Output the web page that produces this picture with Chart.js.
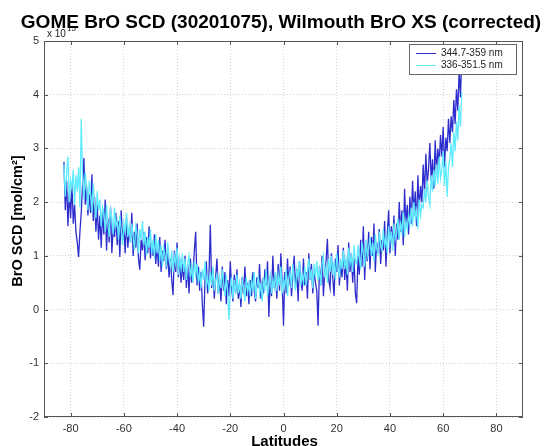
<!DOCTYPE html>
<html>
<head>
<meta charset="utf-8">
<script src="https://cdn.jsdelivr.net/npm/chart.js@4.4.0/dist/chart.umd.min.js"></script>
<style>
  html, body { margin: 0; padding: 0; background: #fff; }
  canvas { display: block; }
</style>
</head>
<body>
<canvas id="broChart" width="544" height="446"></canvas>
<script>
const chartTitle = "GOME BrO SCD (30201075), Wilmouth BrO XS (corrected)";
const xTitle = "Latitudes";
const yTitle = "BrO SCD [mol/cm\u00B2]";
const xTicks = [-80, -60, -40, -20, 0, 20, 40, 60, 80];
const yTicks = [-2, -1, 0, 1, 2, 3, 4, 5];
const seriesNames = ["344.7-359 nm", "336-351.5 nm"];

// latitude of each ground pixel along the orbit
const lats = [
  -82.5, -82, -81.5, -81, -80.5, -80, -79.5, -79, -78.5, -78,
  -77.5, -77, -76.5, -76, -75.5, -75, -74.5, -74, -73.5, -73,
  -72.5, -72, -71.5, -71, -70.5, -70, -69.5, -69, -68.5, -68,
  -67.5, -67, -66.5, -66, -65.5, -65, -64.5, -64, -63.5, -63,
  -62.5, -62, -61.5, -61, -60.5, -60, -59.5, -59, -58.5, -58,
  -57.5, -57, -56.5, -56, -55.5, -55, -54.5, -54, -53.5, -53,
  -52.5, -52, -51.5, -51, -50.5, -50, -49.5, -49, -48.5, -48,
  -47.5, -47, -46.5, -46, -45.5, -45, -44.5, -44, -43.5, -43,
  -42.5, -42, -41.5, -41, -40.5, -40, -39.5, -39, -38.5, -38,
  -37.5, -37, -36.5, -36, -35.5, -35, -34.5, -34, -33.5, -33,
  -32.5, -32, -31.5, -31, -30.5, -30, -29.5, -29, -28.5, -28,
  -27.5, -27, -26.5, -26, -25.5, -25, -24.5, -24, -23.5, -23,
  -22.5, -22, -21.5, -21, -20.5, -20, -19.5, -19, -18.5, -18,
  -17.5, -17, -16.5, -16, -15.5, -15, -14.5, -14, -13.5, -13,
  -12.5, -12, -11.5, -11, -10.5, -10, -9.5, -9, -8.5, -8,
  -7.5, -7, -6.5, -6, -5.5, -5, -4.5, -4, -3.5, -3,
  -2.5, -2, -1.5, -1, -0.5, 0, 0.5, 1, 1.5, 2,
  2.5, 3, 3.5, 4, 4.5, 5, 5.5, 6, 6.5, 7,
  7.5, 8, 8.5, 9, 9.5, 10, 10.5, 11, 11.5, 12,
  12.5, 13, 13.5, 14, 14.5, 15, 15.5, 16, 16.5, 17,
  17.5, 18, 18.5, 19, 19.5, 20, 20.5, 21, 21.5, 22,
  22.5, 23, 23.5, 24, 24.5, 25, 25.5, 26, 26.5, 27,
  27.5, 28, 28.5, 29, 29.5, 30, 30.5, 31, 31.5, 32,
  32.5, 33, 33.5, 34, 34.5, 35, 35.5, 36, 36.5, 37,
  37.5, 38, 38.5, 39, 39.5, 40, 40.5, 41, 41.5, 42,
  42.5, 43, 43.5, 44, 44.5, 45, 45.5, 46, 46.5, 47,
  47.5, 48, 48.5, 49, 49.5, 50, 50.5, 51, 51.5, 52,
  52.5, 53, 53.5, 54, 54.5, 55, 55.5, 56, 56.5, 57,
  57.5, 58, 58.5, 59, 59.5, 60, 60.5, 61, 61.5, 62,
  62.5, 63, 63.5, 64, 64.5, 65, 65.5, 66, 66.5, 67
];

// slant columns, units of 1e15 molec/cm2, fit window 344.7-359 nm
const scdLong = [
  2.75, 1.85, 2.40, 1.55, 2.20, 1.70, 2.35, 1.60, 1.95, 1.45,
  1.25, 0.98, 1.45, 1.80, 2.35, 2.82, 1.95, 2.30, 1.75, 2.15,
  1.80, 2.52, 1.65, 2.10, 1.45, 1.95, 1.30, 1.75, 1.15, 1.85,
  1.40, 2.05, 1.10, 1.70, 1.25, 1.90, 1.05, 1.55, 1.35, 1.80,
  1.20, 1.65, 0.98, 1.85, 1.30, 1.55, 1.05, 1.70, 1.15, 1.50,
  1.25, 1.80, 1.00, 1.45, 1.15, 1.60, 0.95, 0.74, 1.30, 1.10,
  1.45, 0.92, 1.35, 1.05, 1.55, 0.95, 1.25, 1.00, 1.40, 0.85,
  1.20, 0.80, 1.35, 0.70, 1.10, 0.90, 1.30, 0.75, 1.05, 0.60,
  0.95, 0.55, 0.27, 1.10, 0.70, 1.25, 0.60, 0.95, 0.50, 0.85,
  0.55, 1.00, 0.40, 0.85, 0.30, 0.95, 0.50, 0.70, 1.10, 1.45,
  0.45, 0.80, 0.35, 0.70, 0.10, -0.32, 0.55, 0.90, 0.30, 0.65,
  1.58, 0.40, 0.75, 0.20, 0.60, 0.95, 0.30, 0.55, 0.15, 0.80,
  0.35, 0.70, 0.10, 0.55, 0.25, 0.90, 0.40, 0.15, 0.65, 0.30,
  0.75, 0.20, 0.45, 0.05, 0.60, 0.30, 0.80, 0.25, 0.50, 0.10,
  0.55, 0.25, 0.70, 0.35, 0.15, 0.60, 0.40, 0.85, 0.20, 0.50,
  0.30, 0.75, 0.45, 0.90, -0.14, 0.55, 0.25, 1.00, 0.40, 0.65,
  0.20, 0.85, 0.35, 1.05, 0.50, -0.30, 0.70, 0.30, 0.95, 0.45,
  0.80, 0.25, 0.65, 1.00, 0.40, 0.75, 0.15, 0.90, 0.55, 0.35,
  0.95, 0.45, 0.70, 0.20, 1.05, 0.55, 0.85, 0.30, 0.75, 0.50,
  0.35, -0.30, 0.80, 0.45, 1.00, 0.25, 0.70, 0.90, 1.32, 0.55,
  0.40, 1.05, 0.60, 0.25, 0.95, 0.70, 1.20, 0.45, 0.85, 0.60,
  1.15, 0.55, 0.90, 0.35, 1.25, 0.70, 1.05, 0.50, 0.95, 0.30,
  0.12, 1.00, 0.65, 1.30, 0.80, 1.55, 0.55, 1.20, 0.90, 1.45,
  0.75, 1.35, 1.00, 1.60, 0.70, 1.25, 1.05, 1.50, 0.85, 1.30,
  1.10, 1.65, 0.80, 1.40, 1.85, 1.05, 1.55, 1.20, 1.75, 1.00,
  1.60, 1.30, 2.00, 1.45, 1.85, 1.20, 2.25, 1.55, 1.95, 1.40,
  2.10, 1.60, 2.40, 1.75, 2.20, 1.55, 2.50, 1.85, 2.30, 2.00,
  2.70, 2.15, 2.90, 2.35, 2.60, 3.10, 2.40, 2.80, 2.25, 3.15,
  2.55, 3.00, 2.70, 3.25, 2.85, 3.40, 2.65, 3.20, 2.95, 3.55,
  3.10, 3.60, 3.30, 3.90, 3.45, 4.10, 3.70, 4.45, 3.95, 4.80
];

// same orbit, fit window 336-351.5 nm
const scdShort = [
  2.70, 2.10, 2.55, 2.85, 2.00, 2.40, 2.25, 2.60, 1.95, 2.50,
  2.20, 2.65, 1.90, 3.55, 2.45, 2.05, 2.55, 2.30, 1.85, 2.40,
  2.15, 1.80, 2.35, 1.95, 1.70, 2.20, 1.85, 2.05, 1.55, 1.90,
  1.80, 1.45, 1.95, 1.60, 1.35, 1.85, 1.70, 1.40, 1.90, 1.55,
  1.65, 1.30, 1.75, 1.50, 1.20, 1.60, 1.45, 1.80, 1.35, 1.55,
  1.25, 1.60, 1.35, 1.10, 1.55, 1.40, 1.05, 1.50, 1.30, 1.65,
  1.20, 1.45, 1.00, 1.35, 1.15, 1.50, 1.05, 1.30, 0.95, 1.40,
  1.05, 1.30, 0.90, 1.20, 0.80, 1.15, 1.00, 0.85, 1.25, 0.95,
  0.80, 1.10, 0.70, 1.00, 0.85, 1.15, 0.65, 0.95, 0.75, 1.05,
  0.70, 0.95, 0.55, 0.85, 1.00, 0.60, 0.80, 0.50, 0.90, 0.65,
  0.85, 0.50, 0.70, 0.40, 0.75, 0.55, 0.90, 0.45, 0.60, 0.35,
  0.70, 0.45, 0.80, 0.35, 0.55, 0.65, 0.30, 0.60, 0.40, 0.75,
  0.50, 0.25, 0.65, 0.35, -0.20, 0.40, 0.60, 0.20, 0.55, 0.30,
  0.65, 0.30, 0.50, 0.20, 0.55, 0.40, 0.15, 0.60, 0.35, 0.50,
  0.25, 0.55, 0.35, 0.70, 0.20, 0.45, 0.60, 0.30, 0.50, 0.15,
  0.60, 0.35, 0.75, 0.25, 0.50, 0.65, 0.30, 0.55, 0.40, 0.70,
  0.35, 0.65, 0.45, 0.80, 0.30, 0.55, 0.40, 0.75, 0.25, 0.60,
  0.70, 0.40, 0.85, 0.55, 0.35, 0.75, 0.60, 0.90, 0.45, 0.65,
  0.50, 0.80, 0.45, 0.70, 0.95, 0.55, 0.75, 0.40, 0.85, 0.60,
  0.90, 0.55, 0.75, 0.45, 0.85, 1.00, 0.60, 0.80, 0.50, 0.95,
  0.70, 1.00, 0.65, 0.90, 0.55, 1.05, 0.80, 0.60, 0.95, 0.75,
  1.10, 0.75, 0.95, 0.65, 1.15, 0.85, 1.00, 0.70, 1.20, 0.90,
  0.85, 1.20, 0.95, 0.75, 1.25, 1.05, 0.80, 1.30, 1.00, 1.15,
  1.35, 1.00, 1.25, 0.90, 1.40, 1.15, 1.05, 1.45, 1.20, 1.10,
  1.50, 1.15, 1.35, 1.05, 1.55, 1.25, 1.45, 1.10, 1.60, 1.30,
  1.40, 1.70, 1.30, 1.60, 1.45, 1.80, 1.35, 1.65, 1.50, 1.75,
  1.60, 1.90, 1.55, 2.00, 1.70, 1.85, 1.50, 2.05, 1.75, 1.95,
  1.90, 2.25, 2.00, 2.40, 2.10, 1.95, 2.50, 2.20, 2.60, 2.30,
  2.70, 2.35, 2.85, 2.45, 2.60, 2.95, 2.30, 2.75, 2.10, 2.65,
  2.80, 3.10, 2.65, 3.30, 2.95, 3.50, 3.15, 3.80, 3.40, 4.05
];

const blue = "rgb(45, 45, 205)";
const cyan = "rgb(95, 235, 255)";

const toPoints = vals => vals.map((v, i) => ({ x: lats[i], y: v }));

// title, axis labels, exponent, box and legend, drawn MATLAB-style
const decorations = {
  id: "decorations",
  afterDraw(chart) {
    const { ctx, chartArea: a } = chart;
    ctx.save();

    ctx.strokeStyle = "#555";
    ctx.lineWidth = 1;
    ctx.strokeRect(a.left + 0.5, a.top + 0.5, a.right - a.left - 1, a.bottom - a.top - 1);

    // tick marks inside the box
    const xs = chart.scales.x, ys = chart.scales.y;
    ctx.beginPath();
    xTicks.forEach(t => {
      const px = Math.round(xs.getPixelForValue(t)) + 0.5;
      ctx.moveTo(px, a.bottom); ctx.lineTo(px, a.bottom - 4);
      ctx.moveTo(px, a.top); ctx.lineTo(px, a.top + 4);
    });
    yTicks.forEach(t => {
      const py = Math.round(ys.getPixelForValue(t)) + 0.5;
      ctx.moveTo(a.left, py); ctx.lineTo(a.left + 4, py);
      ctx.moveTo(a.right, py); ctx.lineTo(a.right - 4, py);
    });
    ctx.stroke();

    ctx.fillStyle = "#222";
    ctx.font = "10px Arial, 'Liberation Sans', sans-serif";
    ctx.textAlign = "left";
    ctx.textBaseline = "alphabetic";
    ctx.fillText("x 10", a.left + 3, a.top - 4);
    ctx.font = "8px Arial, 'Liberation Sans', sans-serif";
    ctx.fillText("15", a.left + 23, a.top - 10);

    ctx.fillStyle = "#000";
    ctx.font = "bold 19px Arial, 'Liberation Sans', sans-serif";
    ctx.textAlign = "center";
    ctx.fillText(chartTitle, 281, 28);

    ctx.font = "bold 15px Arial, 'Liberation Sans', sans-serif";
    ctx.fillText(xTitle, (a.left + a.right) / 2 + 1, 446);

    ctx.font = "bold 14.5px Arial, 'Liberation Sans', sans-serif";
    ctx.save();
    ctx.translate(22, 221);
    ctx.rotate(-Math.PI / 2);
    ctx.fillText(yTitle, 0, 0);
    ctx.restore();

    // legend box
    const lx = 409, ly = 44, lw = 107, lh = 30;
    ctx.fillStyle = "#fff";
    ctx.fillRect(lx, ly, lw, lh);
    ctx.strokeStyle = "#666";
    ctx.strokeRect(lx + 0.5, ly + 0.5, lw, lh);
    ctx.font = "10px Arial, 'Liberation Sans', sans-serif";
    ctx.textAlign = "left";
    ctx.textBaseline = "middle";
    [blue, cyan].forEach((c, i) => {
      const yy = ly + 9 + i * 12;
      ctx.strokeStyle = c;
      ctx.beginPath();
      ctx.moveTo(lx + 7, yy + 0.5);
      ctx.lineTo(lx + 27, yy + 0.5);
      ctx.stroke();
      ctx.fillStyle = "#222";
      ctx.fillText(seriesNames[i], lx + 32, yy);
    });

    ctx.restore();
  }
};

const ctx = document.getElementById("broChart").getContext("2d");
new Chart(ctx, {
  type: "line",
  data: {
    datasets: [
      {
        label: seriesNames[0],
        data: toPoints(scdLong),
        borderColor: blue,
        borderWidth: 1.3,
        pointRadius: 0,
        tension: 0,
        order: 2
      },
      {
        label: seriesNames[1],
        data: toPoints(scdShort),
        borderColor: cyan,
        borderWidth: 1.3,
        pointRadius: 0,
        tension: 0,
        order: 1
      }
    ]
  },
  options: {
    responsive: false,
    animation: false,
    events: [],
    layout: { padding: { top: 41, right: 21, left: 0, bottom: 0 } },
    plugins: {
      legend: { display: false },
      title: { display: false },
      tooltip: { enabled: false }
    },
    scales: {
      x: {
        type: "linear",
        min: -90,
        max: 90,
        afterBuildTicks: s => { s.ticks = xTicks.map(v => ({ value: v })); },
        afterFit: s => { s.height = 29; },
        grid: { color: "#d4d4d4", tickLength: 0, drawTicks: false },
        border: { display: false, dash: [1, 2] },
        ticks: { color: "#333", font: { size: 11, family: "Arial" }, padding: 5, maxRotation: 0 }
      },
      y: {
        min: -2,
        max: 5,
        afterBuildTicks: s => { s.ticks = yTicks.map(v => ({ value: v })); },
        afterFit: s => { s.width = 44; },
        grid: { color: "#d4d4d4", drawTicks: false },
        border: { display: false, dash: [1, 2] },
        ticks: { color: "#333", font: { size: 11, family: "Arial" }, padding: 5 }
      }
    }
  },
  plugins: [decorations]
});
</script>
</body>
</html>
